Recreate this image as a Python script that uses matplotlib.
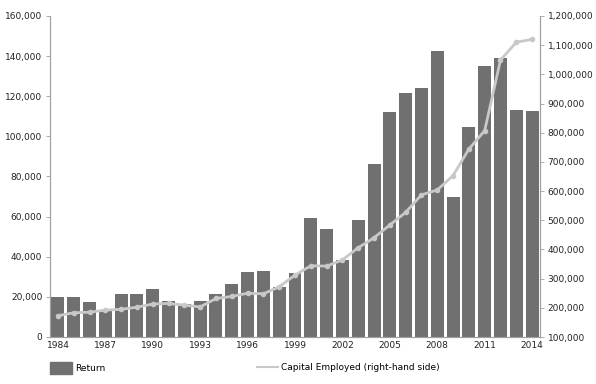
import matplotlib
matplotlib.use("Agg")
import matplotlib.pyplot as plt
from matplotlib.ticker import FuncFormatter
from matplotlib.patches import Patch
from matplotlib.lines import Line2D

# values
years = list(range(1984, 2015))
returns = [20000, 20000, 17500, 13000, 21500, 21500, 24000, 18000, 16500, 18000,
           21500, 26500, 32500, 33000, 25000, 32000, 59500, 53700, 38400, 58400,
           86100, 112100, 121800, 124000, 142800, 69700, 104700, 135000, 139000,
           113200, 112700]
capital = [173000, 183000, 185000, 192000, 195000, 202000, 213000, 215000, 209000,
           203000, 232000, 239000, 250000, 248000, 272000, 312000, 344000, 343000,
           364000, 406000, 440000, 484000, 527000, 587000, 604000, 653000, 744000,
           807000, 1049000, 1110000, 1120000]
xticks = list(range(1984, 2015, 3))

bar_col = "#707070"
line_col = "#c8c8c8"
axis_col = "#a0a0a0"
fs = 6.5

fig = plt.figure(figsize=(5.96, 3.84), dpi=100)
ax = fig.add_axes([50/596, 47/384, 490/596, 321/384])
ax2 = ax.twinx()

ax.bar(years, returns, width=0.82, color=bar_col, zorder=2)
ax2.plot(years, capital, color=line_col, lw=2, marker="o", ms=3,
         markerfacecolor=line_col, markeredgecolor=line_col, zorder=3)
ax2.set_zorder(ax.get_zorder() + 1)
ax2.patch.set_visible(False)

ax.set_xlim(1983.5, 2014.5)
ax.set_ylim(0, 160000)
ax2.set_ylim(100000, 1200000)
ax.set_yticks(range(0, 160001, 20000))
ax2.set_yticks(range(100000, 1200001, 100000))
ax.set_xticks(xticks)

fmt = FuncFormatter(lambda v, p: f"{int(v):,}")
ax.yaxis.set_major_formatter(fmt)
ax2.yaxis.set_major_formatter(fmt)

for a in (ax, ax2):
    for s in a.spines.values():
        s.set_color(axis_col)
        s.set_linewidth(0.8)
    a.spines["top"].set_visible(False)
    a.tick_params(labelsize=fs, colors="#222222", length=3, width=0.6)
    a.tick_params(axis="y", color=axis_col, pad=2.5)
ax.tick_params(axis="x", length=0, pad=3)

fig.legend(handles=[Patch(color=bar_col)], labels=["Return"],
           loc="center left", bbox_to_anchor=(42/596, 1 - 368/384),
           frameon=False, fontsize=fs, handlelength=2.4, handleheight=1.6,
           handletextpad=0.35)
fig.legend(handles=[Line2D([], [], color=line_col, lw=1.5)],
           labels=["Capital Employed (right-hand side)"],
           loc="center left", bbox_to_anchor=(249/596, 1 - 368/384),
           frameon=False, fontsize=fs, handlelength=2.3, handletextpad=0.35)

fig.savefig("out.png", dpi=100)
